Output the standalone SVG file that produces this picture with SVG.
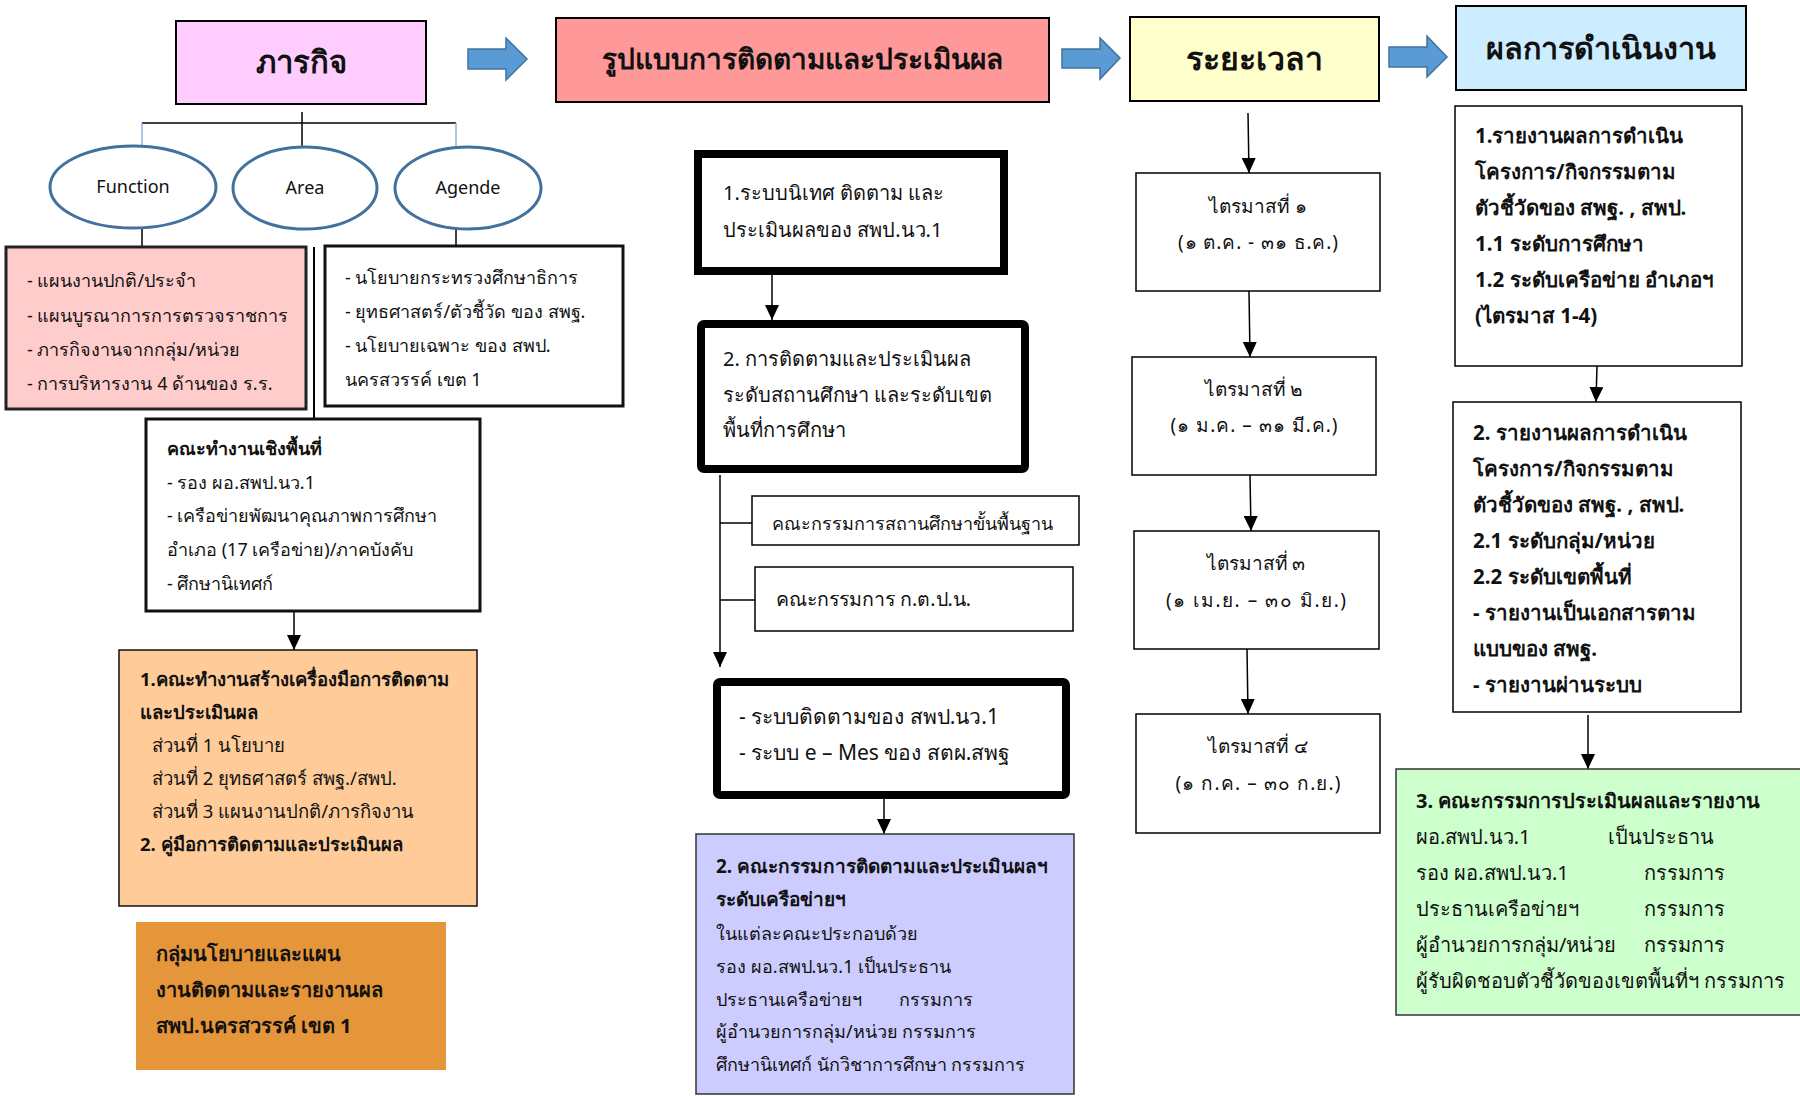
<svg xmlns="http://www.w3.org/2000/svg" width="1800" height="1096" viewBox="0 0 1800 1096">
<defs>
<marker id="ah" markerWidth="16" markerHeight="14" refX="15" refY="7" orient="auto" markerUnits="userSpaceOnUse">
<path d="M0,0 L15,7 L0,14 Z" fill="#000"/>
</marker>
<style>
text{font-family:"Noto Sans","DejaVu Sans",sans-serif;fill:#111;}
.title{font-size:32px;font-weight:bold;text-anchor:middle;}
.b{font-weight:bold;}
.s18{font-size:18px;}
.s185{font-size:18.5px;}
.s19{font-size:19px;}
.s20{font-size:20px;}
.s205{font-size:20.5px;}
.s21{font-size:21px;}
.mid{text-anchor:middle;}
.box{stroke:#000;stroke-width:2;}
.thick{fill:#fff;stroke:#000;stroke-width:8;}
.thin{fill:#fff;stroke:#000;stroke-width:1.5;}
.ell{fill:#fff;stroke:#41719C;stroke-width:3;}
.blk{fill:#5B9BD5;stroke:#41719C;stroke-width:1.5;}
.con{stroke:#000;stroke-width:1.5;fill:none;}
.conb{stroke:#8EB4E3;stroke-width:1.5;fill:none;}
</style>
</defs>

<g id="connectors">
<line class="con" x1="302" y1="112" x2="302" y2="147"/>
<line class="con" x1="142" y1="123" x2="456" y2="123"/>
<line class="conb" x1="142" y1="123" x2="142" y2="146"/>
<line class="conb" x1="456" y1="123" x2="456" y2="147"/>
<line class="con" x1="142" y1="227" x2="142" y2="247"/>
<line class="con" x1="456" y1="229" x2="456" y2="246"/>
<line class="con" x1="314" y1="247" x2="314" y2="419" style="stroke-width:2"/>
<line class="con" x1="294" y1="606" x2="294" y2="650" marker-end="url(#ah)"/>
<line class="con" x1="772" y1="275" x2="772" y2="320" marker-end="url(#ah)"/>
<line class="con" x1="720" y1="475" x2="720" y2="667" marker-end="url(#ah)"/>
<line class="con" x1="720" y1="523" x2="752" y2="523"/>
<line class="con" x1="720" y1="600" x2="755" y2="600"/>
<line class="con" x1="884" y1="788" x2="884" y2="834" marker-end="url(#ah)"/>
<line class="con" x1="1248" y1="113" x2="1249" y2="173" marker-end="url(#ah)"/>
<line class="con" x1="1249" y1="291" x2="1250" y2="357" marker-end="url(#ah)"/>
<line class="con" x1="1250" y1="475" x2="1251" y2="531" marker-end="url(#ah)"/>
<line class="con" x1="1247" y1="649" x2="1248" y2="714" marker-end="url(#ah)"/>
<line class="con" x1="1597" y1="366" x2="1596" y2="402" marker-end="url(#ah)"/>
<line class="con" x1="1588" y1="715" x2="1588" y2="769" marker-end="url(#ah)"/>
<polygon class="blk" points="468,49 506,49 506,38 527,59 506,80 506,69 468,69"/>
<polygon class="blk" points="1062,49 1100,49 1100,38 1120,58 1100,79 1100,68 1062,68"/>
<polygon class="blk" points="1389,47 1427,47 1427,36 1447,57 1427,77 1427,67 1389,67"/>
</g>

<g id="n-pharakit">
<rect class="box" x="176" y="21" width="250" height="83" fill="#FFCCFF"/>
<text class="title" x="301" y="73" style="font-size:31px">ภารกิจ</text>
</g>
<g id="n-rupbaep">
<rect class="box" x="556" y="18" width="493" height="84" fill="#FF9999"/>
<text class="title" x="802" y="69" style="font-size:28px">รูปแบบการติดตามและประเมินผล</text>
</g>
<g id="n-rayawela">
<rect class="box" x="1130" y="17" width="249" height="84" fill="#FFFFCC"/>
<text class="title" x="1254" y="70">ระยะเวลา</text>
</g>
<g id="n-phon">
<rect class="box" x="1456" y="6" width="290" height="84" fill="#CCECFF"/>
<text class="title" x="1601" y="59" style="font-size:30.5px">ผลการดำเนินงาน</text>
</g>

<g id="n-function">
<ellipse class="ell" cx="133" cy="187" rx="83" ry="41"/>
<text class="s18 mid" x="133" y="193">Function</text>
</g>
<g id="n-area">
<ellipse class="ell" cx="305" cy="188" rx="72" ry="41"/>
<text class="s18 mid" x="305" y="194">Area</text>
</g>
<g id="n-agende">
<ellipse class="ell" cx="468" cy="188" rx="73" ry="41"/>
<text class="s18 mid" x="468" y="194">Agende</text>
</g>

<g id="n-function-box">
<rect x="6" y="247" width="300" height="162" fill="#FFCCCC" stroke="#222" stroke-width="3"/>
<text class="s18" x="27" y="287">- แผนงานปกติ/ประจำ</text>
<text class="s18" x="27" y="322">- แผนบูรณาการการตรวจราชการ</text>
<text class="s18" x="27" y="356">- ภารกิจงานจากกลุ่ม/หน่วย</text>
<text class="s18" x="27" y="390">- การบริหารงาน 4 ด้านของ ร.ร.</text>
</g>
<g id="n-agende-box">
<rect x="325" y="246" width="298" height="160" fill="#fff" stroke="#111" stroke-width="3"/>
<text class="s18" x="345" y="284">- นโยบายกระทรวงศึกษาธิการ</text>
<text class="s18" x="345" y="318">- ยุทธศาสตร์/ตัวชี้วัด ของ สพฐ.</text>
<text class="s18" x="345" y="352">- นโยบายเฉพาะ ของ สพป.</text>
<text class="s18" x="345" y="386">นครสวรรค์ เขต 1</text>
</g>
<g id="n-area-box">
<rect x="146" y="419" width="334" height="192" fill="#fff" stroke="#111" stroke-width="3"/>
<text class="s18 b" x="167" y="455">คณะทำงานเชิงพื้นที่</text>
<text class="s18" x="167" y="489">- รอง ผอ.สพป.นว.1</text>
<text class="s18" x="167" y="522">- เครือข่ายพัฒนาคุณภาพการศึกษา</text>
<text class="s18" x="167" y="556">อำเภอ (17 เครือข่าย)/ภาคบังคับ</text>
<text class="s18" x="167" y="590">- ศึกษานิเทศก์</text>
</g>
<g id="n-tools">
<rect x="119" y="650" width="358" height="256" fill="#FFCC99" stroke="#111" stroke-width="1.5"/>
<text class="s185 b" x="140" y="686">1.คณะทำงานสร้างเครื่องมือการติดตาม</text>
<text class="s185 b" x="140" y="719">และประเมินผล</text>
<text class="s185" x="152" y="752">ส่วนที่ 1 นโยบาย</text>
<text class="s185" x="152" y="785">ส่วนที่ 2 ยุทธศาสตร์ สพฐ./สพป.</text>
<text class="s185" x="152" y="818">ส่วนที่ 3 แผนงานปกติ/ภารกิจงาน</text>
<text class="s185 b" x="140" y="851">2. คู่มือการติดตามและประเมินผล</text>
</g>
<g id="n-group">
<rect x="136" y="922" width="310" height="148" fill="#E5953A"/>
<text class="s20 b" x="156" y="961">กลุ่มนโยบายและแผน</text>
<text class="s20 b" x="156" y="997">งานติดตามและรายงานผล</text>
<text class="s20 b" x="156" y="1033">สพป.นครสวรรค์ เขต 1</text>
</g>

<g id="n-m1">
<rect class="thick" x="698" y="154" width="306" height="117"/>
<text class="s20" x="723" y="200">1.ระบบนิเทศ ติดตาม และ</text>
<text class="s20" x="723" y="237">ประเมินผลของ สพป.นว.1</text>
</g>
<g id="n-m2">
<rect class="thick" x="701" y="324" width="324" height="145" rx="3"/>
<text class="s20" x="723" y="366">2. การติดตามและประเมินผล</text>
<text class="s20" x="723" y="402">ระดับสถานศึกษา และระดับเขต</text>
<text class="s20" x="723" y="437">พื้นที่การศึกษา</text>
</g>
<g id="n-m2a">
<rect class="thin" x="752" y="496" width="327" height="49"/>
<text class="s18" x="772" y="530">คณะกรรมการสถานศึกษาขั้นพื้นฐาน</text>
</g>
<g id="n-m2b">
<rect class="thin" x="755" y="567" width="318" height="64"/>
<text x="776" y="606" style="font-size:19.5px">คณะกรรมการ ก.ต.ป.น.</text>
</g>
<g id="n-m3">
<rect class="thick" x="717" y="682" width="349" height="113" rx="3"/>
<text class="s21" x="739" y="724">- ระบบติดตามของ สพป.นว.1</text>
<text class="s21" x="739" y="760">- ระบบ e – Mes ของ สตผ.สพฐ</text>
</g>
<g id="n-m4">
<rect x="696" y="834" width="378" height="260" fill="#CCCCFF" stroke="#333" stroke-width="1.5"/>
<text class="s19 b" x="716" y="873">2. คณะกรรมการติดตามและประเมินผลฯ</text>
<text class="s19 b" x="716" y="906">ระดับเครือข่ายฯ</text>
<text class="s18" x="716" y="940">ในแต่ละคณะประกอบด้วย</text>
<text class="s18" x="716" y="973">รอง ผอ.สพป.นว.1 เป็นประธาน</text>
<text class="s18" x="716" y="1006">ประธานเครือข่ายฯ</text>
<text class="s18" x="899" y="1006">กรรมการ</text>
<text class="s18" x="716" y="1038">ผู้อำนวยการกลุ่ม/หน่วย กรรมการ</text>
<text class="s18" x="716" y="1071">ศึกษานิเทศก์ นักวิชาการศึกษา กรรมการ</text>
</g>

<g id="n-q1">
<rect class="thin" x="1136" y="173" width="244" height="118"/>
<text class="s19 mid" x="1258" y="213">ไตรมาสที่ ๑</text>
<text class="s19 mid" x="1258" y="249" textLength="160">(๑ ต.ค. - ๓๑ ธ.ค.)</text>
</g>
<g id="n-q2">
<rect class="thin" x="1132" y="357" width="244" height="118"/>
<text class="s19 mid" x="1254" y="396">ไตรมาสที่ ๒</text>
<text class="s19 mid" x="1254" y="432" textLength="167">(๑ ม.ค. – ๓๑ มี.ค.)</text>
</g>
<g id="n-q3">
<rect class="thin" x="1134" y="531" width="245" height="118"/>
<text class="s19 mid" x="1256" y="570">ไตรมาสที่ ๓</text>
<text class="s19 mid" x="1256" y="607" textLength="180">(๑ เม.ย. –  ๓๐ มิ.ย.)</text>
</g>
<g id="n-q4">
<rect class="thin" x="1136" y="714" width="244" height="119"/>
<text class="s19 mid" x="1258" y="753">ไตรมาสที่ ๔</text>
<text class="s19 mid" x="1258" y="790" textLength="165">(๑ ก.ค. – ๓๐ ก.ย.)</text>
</g>

<g id="n-r1">
<rect class="thin" x="1455" y="106" width="287" height="260"/>
<text class="s205 b" x="1475" y="143">1.รายงานผลการดำเนิน</text>
<text class="s205 b" x="1475" y="179">โครงการ/กิจกรรมตาม</text>
<text class="s205 b" x="1475" y="215">ตัวชี้วัดของ สพฐ. , สพป.</text>
<text class="s205 b" x="1475" y="251">1.1 ระดับการศึกษา</text>
<text class="s205 b" x="1475" y="287">1.2 ระดับเครือข่าย อำเภอฯ</text>
<text class="s205 b" x="1475" y="323">(ไตรมาส 1-4)</text>
</g>
<g id="n-r2">
<rect class="thin" x="1453" y="402" width="288" height="310"/>
<text class="s205 b" x="1473" y="440">2. รายงานผลการดำเนิน</text>
<text class="s205 b" x="1473" y="476">โครงการ/กิจกรรมตาม</text>
<text class="s205 b" x="1473" y="512">ตัวชี้วัดของ สพฐ. , สพป.</text>
<text class="s205 b" x="1473" y="548">2.1 ระดับกลุ่ม/หน่วย</text>
<text class="s205 b" x="1473" y="584">2.2 ระดับเขตพื้นที่</text>
<text class="s205 b" x="1473" y="620">- รายงานเป็นเอกสารตาม</text>
<text class="s205 b" x="1473" y="656">แบบของ สพฐ.</text>
<text class="s205 b" x="1473" y="692">- รายงานผ่านระบบ</text>
</g>
<g id="n-r3">
<rect x="1396" y="769" width="406" height="246" fill="#CCFFCC" stroke="#333" stroke-width="1.5"/>
<text class="s20 b" x="1416" y="808">3. คณะกรรมการประเมินผลและรายงาน</text>
<text class="s20" x="1416" y="844">ผอ.สพป.นว.1</text>
<text class="s20" x="1608" y="844">เป็นประธาน</text>
<text class="s20" x="1416" y="880">รอง ผอ.สพป.นว.1</text>
<text class="s20" x="1644" y="880">กรรมการ</text>
<text class="s20" x="1416" y="916">ประธานเครือข่ายฯ</text>
<text class="s20" x="1644" y="916">กรรมการ</text>
<text class="s20" x="1416" y="952">ผู้อำนวยการกลุ่ม/หน่วย</text>
<text class="s20" x="1644" y="952">กรรมการ</text>
<text class="s20" x="1416" y="988">ผู้รับผิดชอบตัวชี้วัดของเขตพื้นที่ฯ กรรมการ</text>
</g>
</svg>
